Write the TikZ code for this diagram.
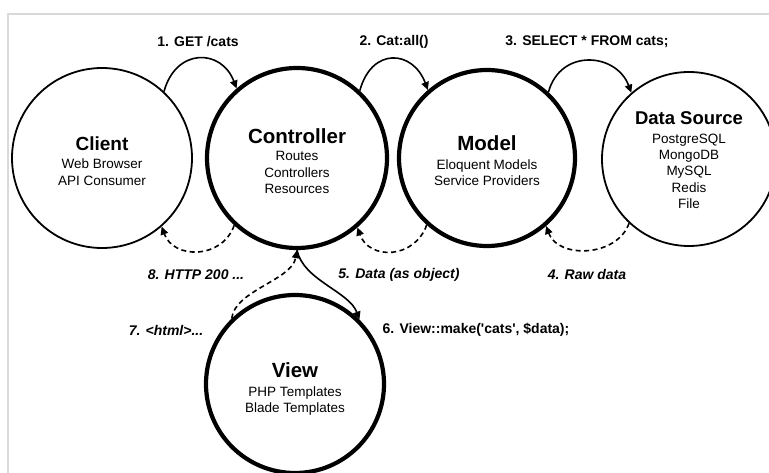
\documentclass[tikz,border=0pt]{standalone}
\usepackage{fontspec}
\setmainfont{Liberation Sans}
\usetikzlibrary{arrows.meta}
\definecolor{framegray}{HTML}{D9D9D9}
\newcommand\mvcttlfont{\fontsize{20.5}{22}\selectfont\bfseries}
\begin{document}
\begin{tikzpicture}[x=1pt,y=1pt,
  thincirc/.style={circle, draw, line width=1.8pt, inner sep=0pt},
  thickcirc/.style={thincirc, line width=4.2pt},
  txt/.style={align=center, inner sep=0pt, font=\fontsize{13.5}{16.5}\selectfont},
  flow/.style={line width=1.6pt, -{Triangle[length=8pt,width=7.5pt]}},
  back/.style={flow, dash pattern=on 5pt off 3.5pt},
  lbl/.style={font=\fontsize{14}{16}\selectfont\bfseries, inner sep=0pt},
  ilbl/.style={font=\fontsize{14}{16}\selectfont\bfseries\itshape, inner sep=0pt}]
\useasboundingbox (0,0) rectangle (769,-473);
% frame
\draw[framegray, line width=1.5pt] (8,-473) -- (8,-14) -- (769,-14);
% circles
\node[thincirc, minimum size=180pt] (client) at (102,-158) {};
\node[thickcirc, minimum size=180pt] (controller) at (297,-158) {};
\node[thickcirc, minimum size=176pt] (model) at (487,-158) {};
\node[thincirc, minimum size=174pt] (data) at (689,-159) {};
\node[thickcirc, minimum size=178pt] (view) at (295,-384) {};
% circle texts
\node[txt] (clientT) at ([yshift=-3pt]client.center)
  {{\fontsize{19}{21}\selectfont\bfseries Client}\\[2pt]Web Browser\\API Consumer};
\node[txt] (controllerT) at ([yshift=-3pt]controller.center)
  {{\mvcttlfont Controller}\\[1pt]Routes\\Controllers\\Resources};
\node[txt] (modelT) at ([yshift=-3pt]model.center)
  {{\mvcttlfont Model}\\[2pt]Eloquent Models\\Service Providers};
\node[txt, font=\fontsize{13.5}{16.2}\selectfont] (dataT) at ([yshift=-1pt]data.center)
  {{\fontsize{18.5}{21}\selectfont\bfseries Data Source}\\[3pt]PostgreSQL\\MongoDB\\MySQL\\Redis\\File};
\node[txt] (viewT) at ([yshift=-5pt]view.center)
  {{\mvcttlfont View}\\[2pt]PHP Templates\\Blade Templates};
% top arrows
\draw[flow] (client.47) .. controls +(12,44) and +(-15,40) .. (controller.131);
\draw[flow] (controller.47) .. controls +(12,44) and +(-15,40) .. (model.131);
\draw[flow] (model.47) .. controls +(12,44) and +(-15,40) .. (data.131);
% bottom dashed arrows
\draw[back] (controller.-133) .. controls +(-12,-34) and +(12,-33) .. (client.-49);
\draw[back] (model.-132) .. controls +(-12,-34) and +(12,-33) .. (controller.-49);
\draw[back] (data.-133) .. controls +(-12,-34) and +(12,-33) .. (model.-49);
% view arrows
\draw[flow] (controller.-90) .. controls +(6,-30) and +(-10,28) .. (view.45);
\draw[back] (view.134) .. controls +(3,28) and +(-5,-30) .. (controller.-90);
% labels
\node[lbl] (l1) at (198,-42) {1. GET /cats};
\node[lbl] (l2) at (394,-42) {2. Cat:all()};
\node[lbl] (l3) at (587,-42) {3. SELECT * FROM cats;};
\node[ilbl] (l8) at (196,-275) {8. HTTP 200 ...};
\node[ilbl] (l5) at (399,-275) {5. Data (as object)};
\node[ilbl] (l4) at (587,-275) {4. Raw data};
\node[ilbl] (l7) at (166,-330) {7. <html>...};
\node[lbl] (l6) at (476,-330) {6. View::make(\textquotesingle cats\textquotesingle, \$data);};
\end{tikzpicture}
\end{document}
